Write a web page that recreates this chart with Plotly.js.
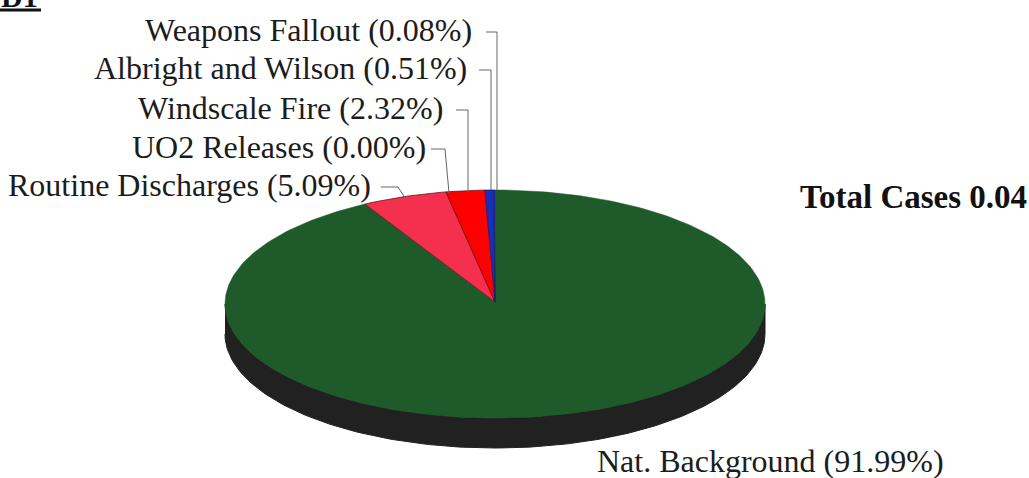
<!DOCTYPE html>
<html><head><meta charset="utf-8">
<script src="https://cdn.plot.ly/plotly-3.0.1.min.js"></script>
<style>html,body{margin:0;padding:0;background:#fff;overflow:hidden}</style>
</head><body><div id="chart" style="width:1029px;height:478px"></div>
<script>
// Data (counter-clockwise from 12 o'clock)
const categories = ["Weapons Fallout","Albright and Wilson","UO2 Releases","Windscale Fire","Routine Discharges","Nat. Background"];
const shares = [0.08,0.51,0.00,2.32,5.09,91.99];
const sliceColors = ["#1b2fb4","#1b2fb4","#ff0000","#ff0000","#f4304e","#1f5a2b"];
const totalLabel = "Total Cases 0.04";

// Disc geometry in axis units (the axes span the page, 1 unit = 1 pixel)
const cx = 495, cy = 304, rx = 270, ry = 114, depth = 30;
const rad = d => d*Math.PI/180;
const rimPt = (deg, dy) => [cx + rx*Math.sin(rad(deg)), cy + ry*(-Math.cos(rad(deg))) + (dy||0)];

const traces = [];
// side wall of the disc: lower half of the rim, dropped by the depth
{
  const xs=[], ys=[];
  for (let a=-90;a>=-270;a--){const p=rimPt(a,0);xs.push(p[0]);ys.push(p[1]);}
  for (let a=-270;a<=-90;a++){const p=rimPt(a,depth);xs.push(p[0]);ys.push(p[1]);}
  traces.push({type:"scatter",mode:"lines",x:xs,y:ys,fill:"toself",fillcolor:"#212121",
    line:{color:"#212121",width:1},hoverinfo:"skip",showlegend:false});
}
// slices: each sweeps counter-clockwise by its share of 360 degrees
let start = 0;
const order = [5,4,3,2,1,0];
const startOf = {};
shares.forEach((s,i)=>{startOf[i]=start; start -= s*3.6;});
order.forEach(i=>{
  if (shares[i]<=0) return;
  const from = startOf[i], to = from - shares[i]*3.6;
  const xs=[cx], ys=[cy-2];
  const n = Math.max(2,Math.ceil(Math.abs(to-from)));
  for (let k=0;k<=n;k++){const p=rimPt(from+(to-from)*k/n);xs.push(p[0]);ys.push(p[1]);}
  xs.push(cx); ys.push(cy-2);
  const small = i<5;
  traces.push({type:"scatter",mode:"lines",name:categories[i],x:xs,y:ys,fill:"toself",
    fillcolor:sliceColors[i],
    line:{color:i===5?sliceColors[i]:(i>=3?"#6e1216":"#16256e"),width:small?0.8:0.5},
    hoverinfo:"name",showlegend:false});
});

const label = i => `${categories[i]} (${shares[i].toFixed(2)}%)`;
const serif = "Liberation Serif, Times New Roman, serif";
const labelFont = {family:serif,size:32,color:"#1c1c1c"};
const ann = (text,x,y,xanchor,font)=>({text,x,y,xref:"x",yref:"y",xanchor,yanchor:"middle",showarrow:false,font:font||labelFont});
const annotations = [
  ann(label(0),474,30,"right"),
  ann(label(1),469,68,"right"),
  ann(label(3),445,108,"right"),
  ann(label(2),428,147,"right"),
  ann(label(4),373,185,"right"),
  ann(label(5),595,461,"left"),
  ann(totalLabel,798,197,"left",{family:serif,size:33,color:"#111",weight:700}),
  {text:"<b>D1</b>",x:0,y:8,xref:"x",yref:"y",xanchor:"left",yanchor:"bottom",showarrow:false,
   font:{family:serif,size:30,color:"#111"},borderpad:0,yshift:-6}
];
const lead = pts => ({type:"path",xref:"x",yref:"y",line:{color:"#666",width:1},
  path:"M"+pts.map(p=>p.join(",")).join("L")});
const shapes = [
  lead([[486,32],[497,32],[497,190]]),
  lead([[479,70],[491,70],[491,190]]),
  lead([[456,110],[468,110],[468,192]]),
  lead([[431,149],[445,149],[449,193]]),
  lead([[381,187],[398,187],[405,198]]),
  {type:"line",xref:"x",yref:"y",x0:0,x1:41,y0:10,y1:10,line:{color:"#111",width:3}}
];
Plotly.newPlot("chart",traces,{
  width:1029,height:478,margin:{l:0,r:0,t:0,b:0},
  paper_bgcolor:"#fff",plot_bgcolor:"#fff",showlegend:false,
  xaxis:{range:[0,1029],visible:false,fixedrange:true},
  yaxis:{range:[478,0],visible:false,fixedrange:true},
  annotations,shapes
},{displayModeBar:false,staticPlot:true});
</script></body></html>
